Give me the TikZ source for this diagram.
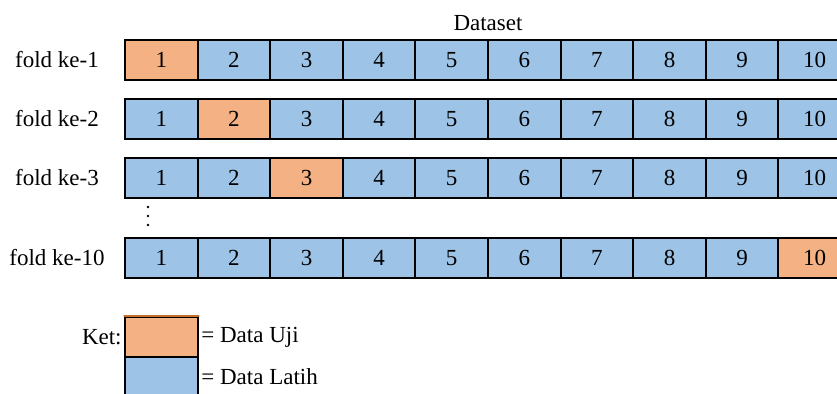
\documentclass[tikz,border=0pt]{standalone}
\usepackage{fontspec}
\setmainfont{Liberation Serif}
\usepackage{tikz}
\definecolor{ujiorange}{RGB}{244,177,131}
\definecolor{ujidark}{RGB}{197,110,50}
\definecolor{latihblue}{RGB}{157,195,230}
\tikzset{
    txt/.style={inner sep=0pt, font=\fontsize{11.5}{13}\selectfont},
    cell/.style={txt, draw=black, line width=1pt, fill=latihblue, minimum width=36.3pt, minimum height=20pt},
    latih/.style={},
    uji/.style={fill=ujiorange}
}
\begin{document}
\begin{tikzpicture}[line cap=round, line join=miter, x=0.5pt, y=-0.5pt]
                \useasboundingbox (0,0) rectangle (837,394);
                \clip (0,0) rectangle (837,394);
                \node[txt] (dataset) at (488,23) {Dataset};
                \foreach \r/\y in {1/60, 2/119, 3/178, 10/258} {
                    \node[txt] (fold\r) at (57,\y) {fold ke-\r};
                    \foreach \c in {1,...,10} {
                        \ifnum\c=\r \def\kind{uji}\else \def\kind{latih}\fi
                        \node[cell, \kind] (f\r c\c) at ({125+72.6*(\c-0.5)},\y) {\c};
                    }
                }
                \foreach \d in {207, 216, 225}
                    \fill[black] (148,\d) circle (0.7pt);
                % keterangan
                \node[txt, anchor=east] (ket) at (122,337) {Ket:};
                \node[cell, uji, minimum width=36.5pt] (ketuji) at (161.5,337) {};
                \node[cell, minimum width=36.5pt] (ketlatih) at (161.5,377) {};
                \draw[ujidark, line width=0.6pt] (ketuji.north west) -- (ketuji.north east);
                \node[txt, anchor=west, xshift=1pt] (ujitxt) at (ketuji.east) {= Data Uji};
                \node[txt, anchor=west, xshift=1pt] (latihtxt) at (ketlatih.east) {= Data Latih};
            \end{tikzpicture}
\end{document}
